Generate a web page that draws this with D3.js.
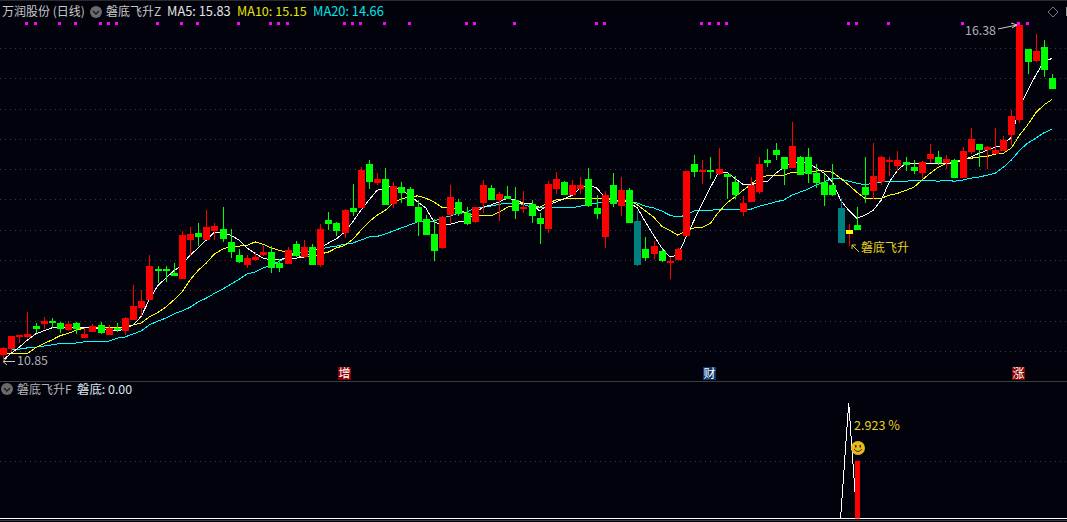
<!DOCTYPE html>
<html><head><meta charset="utf-8">
<script src="https://cdn.jsdelivr.net/npm/d3@7"></script>
<style>html,body{margin:0;padding:0;background:#02020c;overflow:hidden}svg{display:block}text{font-family:"Noto Sans CJK SC","Noto Sans",sans-serif}</style>
</head><body><svg id="c" width="1067" height="522"></svg>
<script>
const open=[10.93,11.03,11.23,11.23,11.41,11.44,11.49,11.46,11.34,11.46,11.21,11.31,11.43,11.26,11.38,11.33,11.51,11.71,11.84,12.35,12.35,12.28,12.18,12.83,12.94,12.83,12.98,13.01,12.80,12.58,12.42,12.50,12.58,12.63,12.45,12.43,12.76,12.55,12.71,12.42,13.16,13.11,12.94,13.36,13.36,14.08,13.77,13.84,13.42,13.70,13.67,13.37,13.18,12.93,12.70,13.24,13.46,13.27,13.13,13.44,13.69,13.49,13.56,13.49,13.34,13.42,13.19,13.01,13.67,13.79,13.57,13.67,13.84,13.36,12.88,13.74,13.39,13.65,13.14,12.68,12.60,12.65,12.45,12.50,12.89,14.08,13.95,13.98,13.92,13.92,13.79,13.29,13.46,13.62,14.15,14.31,14.20,14.02,14.20,14.20,13.93,13.79,13.74,13.36,12.93,13.08,13.70,13.64,13.79,14.12,14.05,14.12,14.03,13.93,14.17,14.20,14.10,14.15,13.85,14.28,14.41,14.31,14.25,14.30,14.56,14.81,15.98,15.78,16.01,15.50];
const close=[11.05,11.25,11.26,11.28,11.36,11.49,11.46,11.36,11.44,11.36,11.28,11.41,11.29,11.38,11.34,11.54,11.74,11.82,12.40,12.32,12.32,12.23,12.91,12.93,12.88,13.04,13.06,12.84,12.63,12.46,12.53,12.55,12.63,12.37,12.37,12.66,12.56,12.71,12.42,13.01,13.09,12.98,13.32,13.29,13.98,13.79,13.84,13.41,13.72,13.60,13.39,13.13,12.91,12.65,13.21,13.54,13.26,13.09,13.37,13.74,13.49,13.59,13.51,13.31,13.37,13.23,13.09,13.75,13.84,13.57,13.74,13.74,13.39,13.26,13.57,13.42,13.65,13.11,12.42,12.53,12.73,12.48,12.48,12.68,13.97,13.95,13.98,13.95,14.00,13.87,13.57,13.44,13.74,14.08,14.10,14.23,14.00,14.38,13.90,13.92,13.77,13.57,13.57,12.78,12.99,12.99,13.57,13.89,14.20,14.15,14.15,14.07,13.97,14.12,14.25,14.10,14.17,13.85,14.30,14.50,14.31,14.36,14.31,14.48,14.88,16.38,15.77,15.95,15.63,15.32];
const high=[11.07,11.25,11.26,11.65,11.46,11.56,11.54,11.48,11.49,11.48,11.38,11.44,11.48,11.43,11.46,11.56,12.08,12.00,12.58,12.40,12.40,12.45,12.98,13.04,13.11,13.32,13.11,13.37,13.01,12.68,12.58,12.63,12.73,12.73,12.51,12.71,12.81,12.83,12.76,13.09,13.29,13.13,13.34,13.75,14.03,14.15,13.93,14.02,13.79,13.79,13.70,13.49,13.24,13.18,13.23,13.74,13.51,13.37,13.37,13.82,13.74,13.62,13.72,13.70,13.64,13.49,13.27,13.80,13.95,13.80,13.82,13.87,14.02,13.57,13.64,13.93,13.87,13.69,13.31,12.88,12.81,12.68,12.55,12.70,13.97,14.23,14.15,14.20,14.35,13.92,13.89,13.56,13.87,14.20,14.33,14.43,14.20,14.78,14.21,14.35,14.08,13.92,14.08,13.52,13.09,13.37,14.20,14.43,14.21,14.20,14.30,14.20,14.15,14.13,14.41,14.30,14.23,14.17,14.36,14.68,14.41,14.38,14.68,14.54,14.97,16.38,15.99,16.23,16.13,15.57];
const low=[10.85,10.99,11.13,11.21,11.29,11.36,11.38,11.29,11.33,11.28,11.21,11.31,11.28,11.26,11.31,11.26,11.51,11.57,11.84,12.12,12.13,12.23,12.18,12.56,12.74,12.83,12.83,12.80,12.53,12.45,12.37,12.48,12.56,12.28,12.30,12.43,12.55,12.53,12.42,12.38,12.99,12.89,12.86,13.23,13.36,13.67,13.74,13.41,13.36,13.44,13.39,12.89,12.91,12.48,12.68,13.11,13.23,13.08,13.11,13.27,13.49,13.14,13.51,13.18,13.27,13.11,12.76,12.94,13.59,13.57,13.57,13.59,13.37,13.18,12.70,13.37,13.23,13.11,12.40,12.48,12.51,12.46,12.18,12.48,12.89,13.87,13.75,13.84,13.90,13.51,13.51,13.23,13.46,13.59,14.03,14.15,13.74,14.02,13.90,13.77,13.69,13.39,13.56,12.78,12.73,12.99,13.44,13.51,13.74,13.89,13.97,13.97,13.92,13.85,14.10,14.07,14.00,13.85,13.85,14.25,14.03,14.00,14.25,14.30,14.40,14.76,15.57,15.77,15.52,15.32];
const ma5=[10.85,10.96,11.06,11.18,11.28,11.33,11.38,11.38,11.38,11.38,11.38,11.38,11.36,11.34,11.33,11.36,11.43,11.57,11.85,12.07,12.20,12.32,12.42,12.58,12.70,12.83,12.96,12.94,12.91,12.83,12.70,12.61,12.53,12.50,12.51,12.53,12.53,12.55,12.63,12.70,12.78,12.85,12.96,13.13,13.32,13.49,13.65,13.69,13.72,13.65,13.57,13.46,13.36,13.13,13.08,13.09,13.13,13.14,13.27,13.37,13.41,13.46,13.52,13.49,13.44,13.44,13.31,13.41,13.46,13.51,13.57,13.69,13.74,13.69,13.54,13.49,13.49,13.46,13.36,13.13,12.91,12.70,12.55,12.58,12.88,13.16,13.44,13.70,13.95,13.95,13.85,13.75,13.74,13.79,13.79,13.93,14.03,14.10,14.12,14.10,14.02,13.93,13.79,13.49,13.32,13.19,13.24,13.32,13.49,13.79,13.98,14.10,14.10,14.10,14.10,14.10,14.10,14.10,14.15,14.20,14.26,14.31,14.36,14.40,14.53,15.01,15.30,15.55,15.77,15.83];
const ma10=[10.96,10.96,10.96,10.96,11.05,11.12,11.18,11.25,11.29,11.34,11.38,11.39,11.39,11.39,11.39,11.39,11.43,11.46,11.56,11.63,11.72,11.84,11.97,12.17,12.33,12.45,12.60,12.68,12.73,12.73,12.74,12.80,12.76,12.70,12.66,12.63,12.58,12.55,12.56,12.60,12.63,12.70,12.74,12.84,12.99,13.13,13.24,13.32,13.44,13.51,13.54,13.56,13.52,13.46,13.37,13.37,13.34,13.27,13.24,13.23,13.23,13.29,13.37,13.41,13.44,13.42,13.37,13.44,13.49,13.51,13.52,13.52,13.51,13.51,13.51,13.49,13.49,13.49,13.41,13.31,13.21,13.06,12.99,12.91,12.98,13.03,13.04,13.11,13.29,13.44,13.54,13.65,13.75,13.87,13.89,13.90,13.90,13.95,13.95,13.95,13.97,13.97,13.95,13.85,13.74,13.62,13.52,13.51,13.52,13.57,13.60,13.65,13.70,13.82,13.93,14.03,14.10,14.12,14.15,14.18,14.20,14.21,14.25,14.26,14.35,14.56,14.73,14.93,15.06,15.15];
const ma20=[null,11.03,11.03,11.05,11.06,11.08,11.10,11.12,11.13,11.13,11.15,11.15,11.15,11.16,11.21,11.23,11.28,11.33,11.43,11.49,11.54,11.61,11.66,11.72,11.81,11.87,11.95,12.02,12.10,12.18,12.27,12.30,12.37,12.42,12.48,12.55,12.60,12.63,12.66,12.68,12.71,12.73,12.76,12.78,12.83,12.88,12.89,12.93,12.98,13.03,13.08,13.13,13.13,13.14,13.19,13.23,13.27,13.29,13.36,13.37,13.39,13.42,13.44,13.44,13.42,13.37,13.36,13.36,13.36,13.36,13.36,13.39,13.42,13.44,13.46,13.46,13.46,13.47,13.44,13.39,13.36,13.31,13.24,13.21,13.24,13.31,13.32,13.32,13.34,13.34,13.34,13.34,13.34,13.39,13.42,13.46,13.49,13.57,13.62,13.67,13.74,13.79,13.85,13.84,13.80,13.77,13.74,13.77,13.79,13.80,13.80,13.80,13.82,13.82,13.82,13.80,13.82,13.80,13.82,13.85,13.87,13.90,13.93,14.03,14.15,14.31,14.43,14.51,14.60,14.66];
const tealDays=[78,103];
const yellowDays=[104];
const signalDays=[3,4,7,9,12,13,14,19,22,24,29,33,34,35,42,43,44,47,50,57,58,63,73,74,86,87,88,89,104,105,109,118,125,126];
const gridPrices=[16,15.5,15,14.5,14,13.5,13,12.5,12,11.5,11];
const tagLabels=["增","财","涨"];
const tagDays=[42,87,125];
const tagColors=["#8a0000","#0a3a6e","#8a0000"];
const subLine=[[103,0],[104,5.85],[105,0]];
const subBarDay=105, subBarValue=2.923, subGrid=[2.923];
const days=d3.range(open.length);

const svg=d3.select("#c");
const W=1067;
const x=d3.scaleLinear().domain([0,129]).range([3,1052]);
const y=d3.scaleLinear().domain([10.85,16.38]).range([360,25]);
const ySub=d3.scaleLinear().domain([0,5.85]).range([518.5,403]);
const px=i=>Math.round(x(i))+0.5;
const bg="#02020c";
svg.append("rect").attr("width",W).attr("height",522).attr("fill",bg);
svg.append("line").attr("x1",0).attr("x2",W).attr("y1",0.5).attr("y2",0.5).attr("stroke","#2a2a2a");
svg.append("line").attr("x1",0).attr("x2",W).attr("y1",381.5).attr("y2",381.5).attr("stroke","#3c3c3c");
svg.append("line").attr("x1",0).attr("x2",W).attr("y1",520.5).attr("y2",520.5).attr("stroke","#3c3c3c");
svg.append("g").selectAll("line").data(gridPrices).join("line")
 .attr("x1",0).attr("x2",W).attr("y1",d=>Math.round(y(d))+.5).attr("y2",d=>Math.round(y(d))+.5)
 .attr("stroke","#3c3c3c").attr("stroke-dasharray","1 4");
svg.append("g").selectAll("line").data(subGrid).join("line")
 .attr("x1",0).attr("x2",W).attr("y1",d=>Math.round(ySub(d))+.5).attr("y2",d=>Math.round(ySub(d))+.5)
 .attr("stroke","#3c3c3c").attr("stroke-dasharray","1 4");

// MA lines under the candles
const ln=d3.line().defined(d=>d!=null).x((d,i)=>x(i)).y(d=>y(d));
[[ma20,"#00ffff"],[ma10,"#ffff00"],[ma5,"#ffffff"]].forEach(([s,c])=>{
 svg.append("path").attr("d",ln(s)).attr("fill","none").attr("stroke",c).attr("stroke-width",1).attr("shape-rendering","crispEdges");
});

// candles
const colorOf=i=>tealDays.includes(i)?"#008080":yellowDays.includes(i)?"#ffff00":close[i]>=open[i]?"#ff0000":"#00ff00";
const g=svg.append("g").attr("shape-rendering","crispEdges");
g.selectAll("line").data(days).join("line")
 .attr("x1",px).attr("x2",px)
 .attr("y1",i=>y(high[i])).attr("y2",i=>y(low[i]))
 .attr("stroke",i=>yellowDays.includes(i)?"#ff0000":colorOf(i));
g.selectAll("rect").data(days).join("rect")
 .attr("x",i=>px(i)-3.5).attr("width",7)
 .attr("y",i=>y(Math.max(open[i],close[i])))
 .attr("height",i=>Math.max(2,Math.abs(y(open[i])-y(close[i]))))
 .attr("fill",colorOf);

// signal squares
svg.append("g").attr("shape-rendering","crispEdges").selectAll("rect").data(signalDays).join("rect")
 .attr("x",i=>Math.round(x(i))-2).attr("y",22).attr("width",3).attr("height",3).attr("fill","#ff00ff");

// tags
const tg=svg.append("g").selectAll("g").data(tagDays).join("g");
tg.append("rect").attr("x",i=>Math.round(x(i))-7).attr("y",367).attr("width",13).attr("height",13)
 .attr("fill",(d,k)=>tagColors[k]);
tg.append("text").attr("x",i=>Math.round(x(i))-.5).attr("y",378).attr("text-anchor","middle")
 .attr("font-size",12).attr("fill","#ffffff").text((d,k)=>tagLabels[k]);

function icon(cx,cy){
 svg.append("circle").attr("cx",cx).attr("cy",cy).attr("r",6).attr("fill","#6a6a6a");
 svg.append("path").attr("d",`M${cx-3} ${cy-1}L${cx} ${cy+2}L${cx+3} ${cy-1}`).attr("fill","none").attr("stroke","#1c1c1c").attr("stroke-width",1.4);
}
function label(tx,ty,s,c,fs,a){
 return svg.append("text").attr("x",tx).attr("y",ty).attr("font-size",fs||12).attr("fill",c).attr("text-anchor",a||"start").text(s);
}
label(2,16,"万润股份 (日线)","#c8c8c8");
icon(96,12);
label(106,16,"磐底飞升Z","#c8c8c8");
label(167,16,"MA5: 15.83","#e4e4e4",12.8);
label(237,16,"MA10: 15.15","#e6e600",12.6);
label(313,16,"MA20: 14.66","#00e6e6",12.8);
icon(7,389);
label(17,394,"磐底飞升F","#b4b4b4");
label(77,394,"磐底: 0.00","#dce6f0",12.4);

// high / low labels
const hiY=y(d3.max(high)), loY=y(d3.min(low));
label(965,35,"16.38","#b0b0b0",12.4);
svg.append("path").attr("d",`M998 ${hiY+4}L1017 ${hiY}M1011 ${hiY-2}L1017 ${hiY}L1012 ${hiY+3}`).attr("fill","none").attr("stroke","#c8c8c8");
label(17,365,"10.85","#b0b0b0",12.4);
svg.append("path").attr("d",`M15 ${loY+1.5}L3 ${loY+1.5}M7 ${loY-2}L3 ${loY+1.5}L7 ${loY+5}`).attr("fill","none").attr("stroke","#c8c8c8");

// signal note
label(861,252,"磐底飞升","#e6d21e");
svg.append("path").attr("d","M859 252L852 245M852 249L852 245L856 245").attr("fill","none").attr("stroke","#e6d21e");

// diamond and window edge
svg.append("path").attr("d","M1053 7L1058 12L1053 17L1048 12Z").attr("fill","none").attr("stroke","#777");
svg.append("rect").attr("x",1066).attr("y",7).attr("width",1).attr("height",9).attr("fill","#999");

// lower panel
svg.append("line").attr("x1",0).attr("x2",W).attr("y1",ySub(0)).attr("y2",ySub(0)).attr("stroke","#fff").attr("shape-rendering","crispEdges");
svg.append("path").attr("d",d3.line().x(d=>x(d[0])).y(d=>ySub(d[1]))(subLine)).attr("fill","none").attr("stroke","#fff").attr("shape-rendering","crispEdges");
svg.append("rect").attr("x",Math.round(x(subBarDay))-2).attr("width",5).attr("y",ySub(subBarValue)).attr("height",ySub(0)-ySub(subBarValue)).attr("fill","#ff0000");
label(854,430,"2.923 %","#e6d21e",12.6);
const sx=858,sy=448;
svg.append("circle").attr("cx",sx).attr("cy",sy).attr("r",7).attr("fill","#e8b820");
svg.append("path").attr("d",`M${sx-4} ${sy+1}Q${sx} ${sy+6} ${sx+4} ${sy+1}`).attr("fill","none").attr("stroke","#3a2a00").attr("stroke-width",1);
svg.append("rect").attr("x",sx-3).attr("y",sy-3).attr("width",1.5).attr("height",2.5).attr("fill","#3a2a00");
svg.append("rect").attr("x",sx+1.5).attr("y",sy-3).attr("width",1.5).attr("height",2.5).attr("fill","#3a2a00");
</script></body></html>
